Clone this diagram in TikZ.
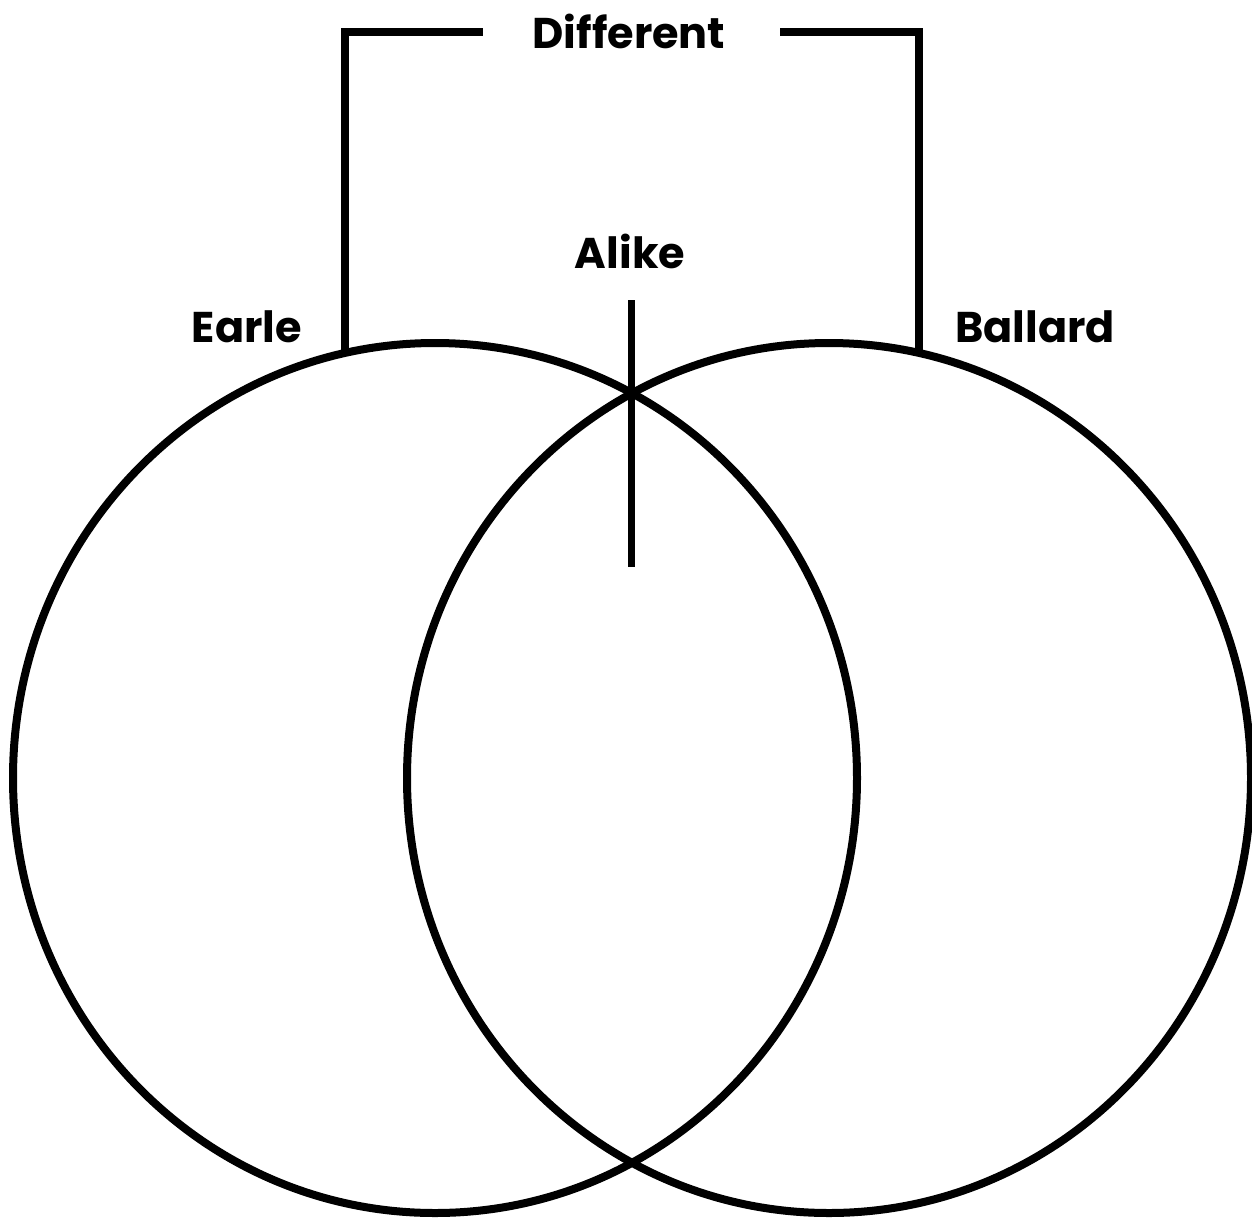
\documentclass[tikz,border=0pt]{standalone}
\usepackage{fontspec}
\setmainfont{Poppins}
\usetikzlibrary{shapes.geometric}

\begin{document}
\begin{tikzpicture}[x=1pt, y=-1pt, line width=8pt,
  set/.style={draw, ellipse, minimum width=844pt, minimum height=870pt, inner sep=0pt, outer sep=0pt},
  lbl/.style={font=\fontsize{43}{50}\selectfont\bfseries, inner sep=0pt}]
  \useasboundingbox (0,0) rectangle (1252,1218);
  \node[set] (earle) at (435,778) {};
  \node[set] (ballard) at (829,778) {};
  \node[lbl] (tearle) at (247,327) {Earle};
  \node[lbl] (tballard) at (1035,327) {Ballard};
  \node[lbl] (alike) at (630,251) {Alike};
  \node[lbl] (diff) at (629,31) {Different};
  \coordinate (dl) at (483,32);
  \coordinate (dr) at (780,32);
  \coordinate (atop) at (631,300);
  \coordinate (abot) at (631,567);
  \draw (earle.102.2) |- (dl);
  \draw (ballard.78.2) |- (dr);
  \draw[line width=7pt] (atop) -- (abot);
\end{tikzpicture}
\end{document}
